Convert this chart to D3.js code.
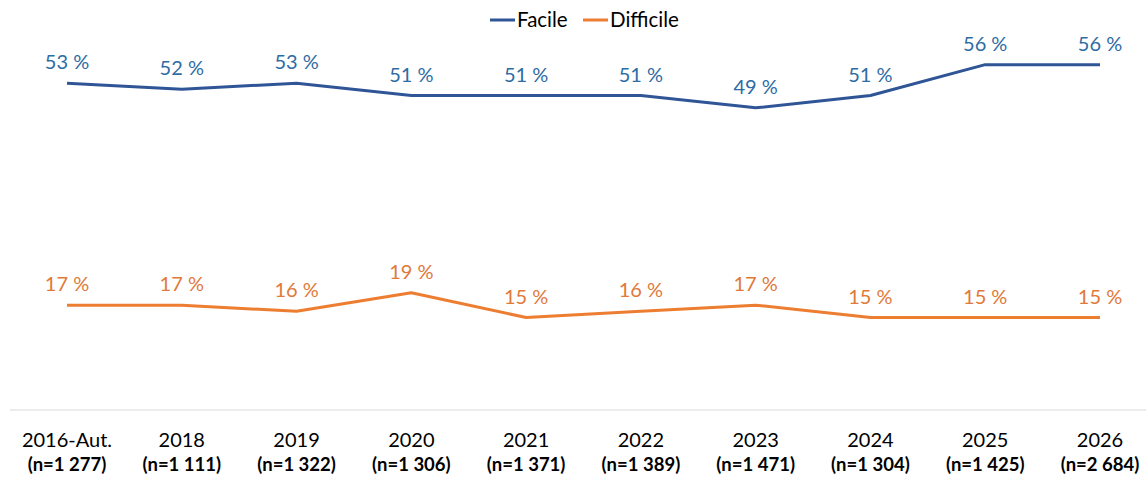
<!DOCTYPE html>
<html>
<head>
<meta charset="utf-8">
<script src="https://cdn.jsdelivr.net/npm/d3@7"></script>
<style>
  body { margin: 0; background: #fff; }
  svg { font-family: Lato, "Open Sans", sans-serif; }
</style>
</head>
<body>
<svg id="chart" width="1146" height="479"></svg>
<script>
"use strict"

// categories and sample sizes
const years = ["2016-Aut.", "2018", "2019", "2020", "2021", "2022", "2023", "2024", "2025", "2026"];
const sampleSizes = ["(n=1 277)", "(n=1 111)", "(n=1 322)", "(n=1 306)", "(n=1 371)", "(n=1 389)", "(n=1 471)", "(n=1 304)", "(n=1 425)", "(n=2 684)"];

// series values (%)
const facile = [53, 52, 53, 51, 51, 51, 49, 51, 56, 56];
const difficile = [17, 17, 16, 19, 15, 16, 17, 15, 15, 15];

const series = [
  {name: "Facile", values: facile, line: "#2F5597", label: "#2E6CA4"},
  {name: "Difficile", values: difficile, line: "#ED7D31", label: "#E0793A"}
];

const svg = d3.select("#chart");

// x as a point scale over the categories
const x = d3.scalePoint()
  .domain(years)
  .range([67, 1100]);

const y = d3.scaleLinear()
  .domain([0, 60])
  .range([410, 40]);

// baseline
svg.append("line")
  .attr("x1", 10).attr("x2", 1146)
  .attr("y1", y(0)).attr("y2", y(0))
  .attr("stroke", "#D9D9D9")
  .attr("stroke-width", 1);

// category labels (two lines)
const xAxis = svg.append("g");
xAxis.selectAll(".year")
  .data(years)
  .enter().append("text")
    .attr("class", "year")
    .attr("x", d => x(d))
    .attr("y", 447)
    .attr("text-anchor", "middle")
    .attr("font-size", "20px")
    .attr("fill", "#000")
    .text(d => d);

xAxis.selectAll(".nsize")
  .data(years)
  .enter().append("text")
    .attr("class", "nsize")
    .attr("x", d => x(d))
    .attr("y", 471)
    .attr("text-anchor", "middle")
    .attr("font-size", "18.5px")
    .attr("font-weight", "bold")
    .attr("fill", "#000")
    .text((d, i) => sampleSizes[i]);

const line = d3.line()
  .x((d, i) => x(years[i]))
  .y(d => y(d));

series.forEach(s => {
  svg.append("path")
    .datum(s.values)
    .attr("fill", "none")
    .attr("stroke", s.line)
    .attr("stroke-width", 3)
    .attr("stroke-linejoin", "round")
    .attr("d", line);

  svg.selectAll(".lbl-" + s.name)
    .data(s.values)
    .enter().append("text")
      .attr("class", "lbl-" + s.name)
      .attr("x", (d, i) => x(years[i]))
      .attr("y", d => y(d) - 14)
      .attr("text-anchor", "middle")
      .attr("font-size", "20px")
      .attr("fill", s.label)
      .text(d => d + " %");
});

// legend
const legend = svg.append("g");
const legendItems = [
  {name: "Facile", color: "#2F5597", x: 490},
  {name: "Difficile", color: "#ED7D31", x: 583}
];
legendItems.forEach(l => {
  legend.append("line")
    .attr("x1", l.x).attr("x2", l.x + 25)
    .attr("y1", 20).attr("y2", 20)
    .attr("stroke", l.color)
    .attr("stroke-width", 3);
  legend.append("text")
    .attr("x", l.x + 27)
    .attr("y", 27)
    .attr("font-size", "20.5px")
    .attr("fill", "#000")
    .text(l.name);
});
</script>
</body>
</html>
